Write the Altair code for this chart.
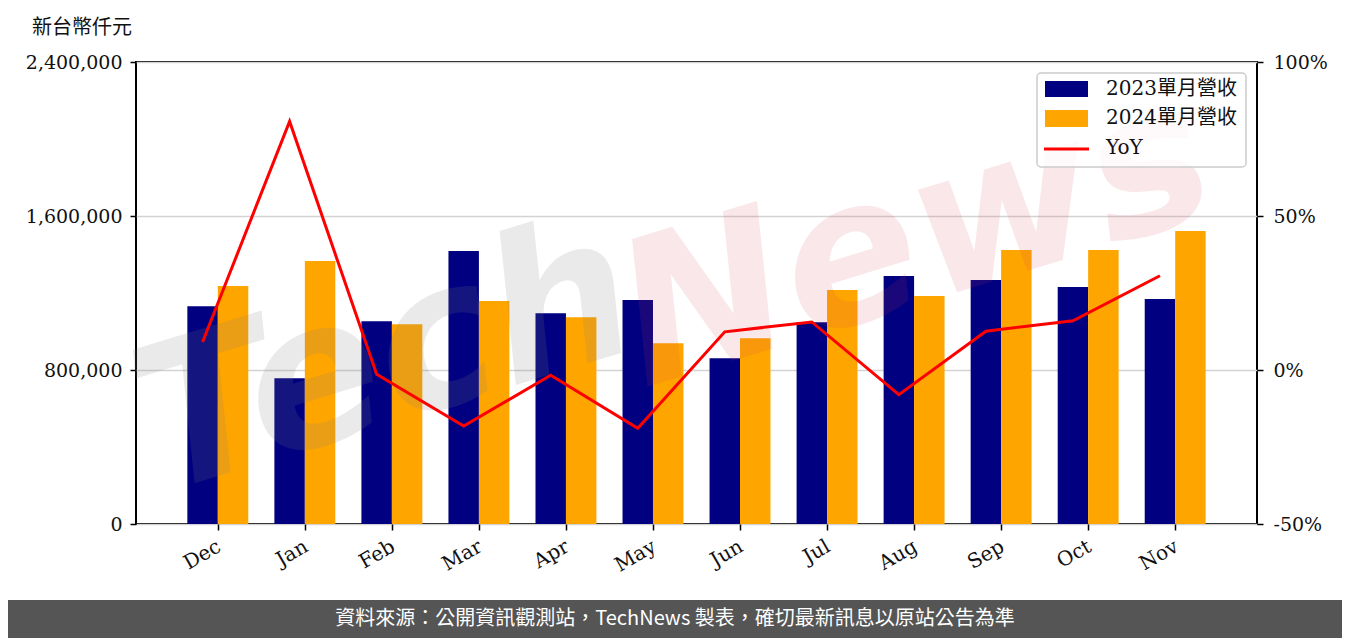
import altair as alt
import pandas as pd

months = ["Dec", "Jan", "Feb", "Mar", "Apr", "May", "Jun", "Jul", "Aug", "Sep", "Oct", "Nov"]
rev_2023 = [1131800, 756800, 1053600, 1418200, 1095300, 1163000, 860900, 1048400, 1288000, 1267200, 1230700, 1168200]
rev_2024 = [1235900, 1366100, 1038000, 1157800, 1074500, 939100, 965100, 1215100, 1183900, 1423400, 1423400, 1522400]
yoy_pct = [9.1, 80.7, -1.4, -18.2, -1.7, -18.9, 12.4, 15.6, -8.0, 12.6, 16.0, 30.6]
series_names = ["2023單月營收", "2024單月營收"]
series_colors = ["#000080", "#FFA500"]
left_ticks = [0, 800000, 1600000, 2400000]
right_ticks = [-50, 0, 50, 100]

SERIF = "DejaVu Serif, Noto Sans CJK TC"
SANS = "Noto Sans CJK TC, Noto Sans"
bar_w = 0.35

rows = []
for i, m in enumerate(months):
    rows.append({"series": series_names[0], "month": m, "x0": i - bar_w, "x1": i, "value": rev_2023[i]})
    rows.append({"series": series_names[1], "month": m, "x0": i, "x1": i + bar_w, "value": rev_2024[i]})
bar_df = pd.DataFrame(rows)
line_df = pd.DataFrame({"month": months, "xpos": [i - bar_w / 2 for i in range(len(months))], "yoy": yoy_pct})
one = pd.DataFrame({"k": [0]})

label_expr = "[" + ",".join("'%s'" % m for m in months) + "][datum.value]"
x_scale = alt.Scale(domain=[-0.94, 11.94], nice=False, zero=False)
x_axis = alt.Axis(values=list(range(len(months))), labelExpr=label_expr, title=None, grid=False,
                  labelAngle=-30, labelAlign="right", labelBaseline="top", labelPadding=6,
                  labelFontSize=20, labelOffset=-4)

bars = alt.Chart(bar_df).mark_rect().encode(
    x=alt.X("x0:Q", scale=x_scale, axis=x_axis),
    x2="x1:Q",
    y=alt.Y("value:Q", scale=alt.Scale(domain=[0, 2400000], nice=False),
            axis=alt.Axis(values=left_ticks, format=",d", title=None, grid=True,
                          gridColor="#d3d3d3", gridWidth=1.5, orient="left", labelPadding=8)),
    y2=alt.datum(0),
    color=alt.Color("series:N", scale=alt.Scale(domain=series_names, range=series_colors), legend=None),
)

wm_tech = alt.Chart(one).mark_text(
    text="Tech", font="DejaVu Sans", fontSize=200, fontWeight="bold", fontStyle="italic",
    angle=343, align="center", baseline="middle", color="#808080", opacity=0.16,
).encode(x=alt.value(250), y=alt.value(300))

wm_news = alt.Chart(one).mark_text(
    text="News", font="DejaVu Sans", fontSize=200, fontWeight="bold", fontStyle="italic",
    angle=343, align="center", baseline="middle", color="#d04050", opacity=0.12,
).encode(x=alt.value(780), y=alt.value(180))

line = alt.Chart(line_df).mark_line(color="#ff0000", strokeWidth=3).encode(
    x=alt.X("xpos:Q", scale=x_scale, axis=x_axis),
    y=alt.Y("yoy:Q", scale=alt.Scale(domain=[-50, 100], nice=False),
            axis=alt.Axis(orient="right", values=right_ticks, labelExpr="datum.value + '%'",
                          title=None, grid=False, labelPadding=10)),
)

leg_box = alt.Chart(one).mark_rect(
    fill="white", fillOpacity=0.8, stroke="#cccccc", strokeWidth=1.5, cornerRadius=4
).encode(x=alt.value(901), x2=alt.value(1110), y=alt.value(11), y2=alt.value(105))
leg_p1 = alt.Chart(one).mark_rect(color=series_colors[0]).encode(
    x=alt.value(909), x2=alt.value(952), y=alt.value(19), y2=alt.value(35))
leg_p2 = alt.Chart(one).mark_rect(color=series_colors[1]).encode(
    x=alt.value(909), x2=alt.value(952), y=alt.value(48), y2=alt.value(65))
leg_l = alt.Chart(one).mark_rule(color="#ff0000", strokeWidth=3).encode(
    x=alt.value(908), x2=alt.value(953), y=alt.value(87))
leg_t1 = alt.Chart(one).mark_text(text=series_names[0], font=SERIF, fontSize=20, align="left",
                                  baseline="middle", color="#111111").encode(x=alt.value(970), y=alt.value(27))
leg_t2 = alt.Chart(one).mark_text(text=series_names[1], font=SERIF, fontSize=20, align="left",
                                  baseline="middle", color="#111111").encode(x=alt.value(970), y=alt.value(56))
leg_t3 = alt.Chart(one).mark_text(text="YoY", font=SERIF, fontSize=20, align="left",
                                  baseline="middle", color="#111111").encode(x=alt.value(970), y=alt.value(86))

y_title = alt.Chart(one).mark_text(text="新台幣仟元", font=SERIF, fontSize=20, align="center",
                                   baseline="middle", color="#111111").encode(x=alt.value(-54), y=alt.value(-34))

footer = alt.Chart(one).mark_rect(color="#555555").encode(
    x=alt.value(-128), x2=alt.value(1206), y=alt.value(538), y2=alt.value(580))
footer_t = alt.Chart(one).mark_text(
    text="資料來源：公開資訊觀測站，TechNews 製表，確切最新訊息以原站公告為準",
    font=SANS, fontSize=20, align="center", baseline="middle", color="white",
).encode(x=alt.value(539), y=alt.value(557))

chart = alt.layer(
    bars, wm_tech, wm_news, line, leg_box, leg_p1, leg_p2, leg_l, leg_t1, leg_t2, leg_t3,
    y_title, footer, footer_t,
).resolve_scale(y="independent").properties(
    width=1121, height=462,
    padding={"left": 128, "top": 54, "right": 85, "bottom": 114},
    autosize=alt.AutoSizeParams(type="none"),
    background="white",
).configure_view(
    stroke="black", strokeWidth=2,
).configure_axis(
    labelFont="DejaVu Serif", labelFontSize=19, labelColor="#111111",
    tickColor="black", tickWidth=1.5, tickSize=6, domain=False,
)

chart.save("out.html", embed_options={"renderer": "svg", "actions": False})
